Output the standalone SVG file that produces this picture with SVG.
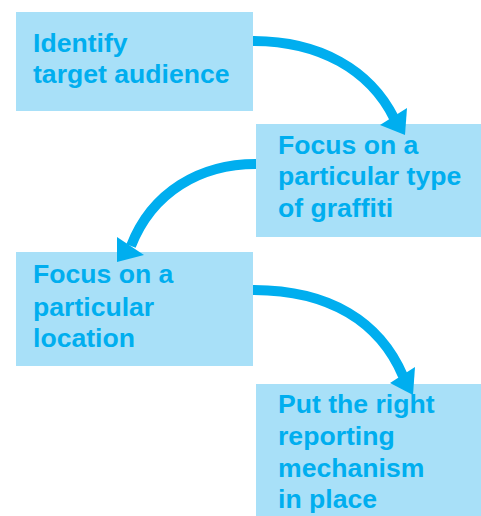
<svg xmlns="http://www.w3.org/2000/svg" width="481" height="516" viewBox="0 0 481 516">
<style>
.box{fill:#a8e0f8}
.t{font-family:"Liberation Sans",Arial,Helvetica,sans-serif;font-weight:bold;font-size:26.6px;fill:#00aeef}
.shaft{fill:none;stroke:#00aeef;stroke-width:10}
.head{fill:#00aeef}
</style>
<rect width="481" height="516" fill="#ffffff"/>
<g id="node1">
<rect class="box" x="16" y="12" width="237" height="99"/>
<text class="t" x="33" y="52">Identify</text>
<text class="t" x="33" y="83">target audience</text>
</g>
<g id="node2">
<rect class="box" x="256" y="124" width="225" height="113"/>
<text class="t" x="278" y="154">Focus on a</text>
<text class="t" x="278" y="185">particular type</text>
<text class="t" x="278" y="217">of graffiti</text>
</g>
<g id="node3">
<rect class="box" x="16" y="252" width="237" height="114"/>
<text class="t" x="33" y="283">Focus on a</text>
<text class="t" x="33" y="316">particular</text>
<text class="t" x="33" y="347">location</text>
</g>
<g id="node4">
<rect class="box" x="256" y="384" width="225" height="132"/>
<text class="t" x="278" y="413">Put the right</text>
<text class="t" x="278" y="445">reporting</text>
<text class="t" x="278" y="477">mechanism</text>
<text class="t" x="278" y="508">in place</text>
</g>
<g id="connectors">
<path class="shaft" d="M253,41 C320,41 370,70 394,118"/>
<polygon class="head" points="380,125 407,108 405,135"/>
<path class="shaft" d="M256,164 C200,164 152,192 131,246"/>
<polygon class="head" points="117,237 144,255 117,262"/>
<path class="shaft" d="M253,290 C330,290 380,322 403,376"/>
<polygon class="head" points="390,383 415,367 413,395"/>
</g>
</svg>
